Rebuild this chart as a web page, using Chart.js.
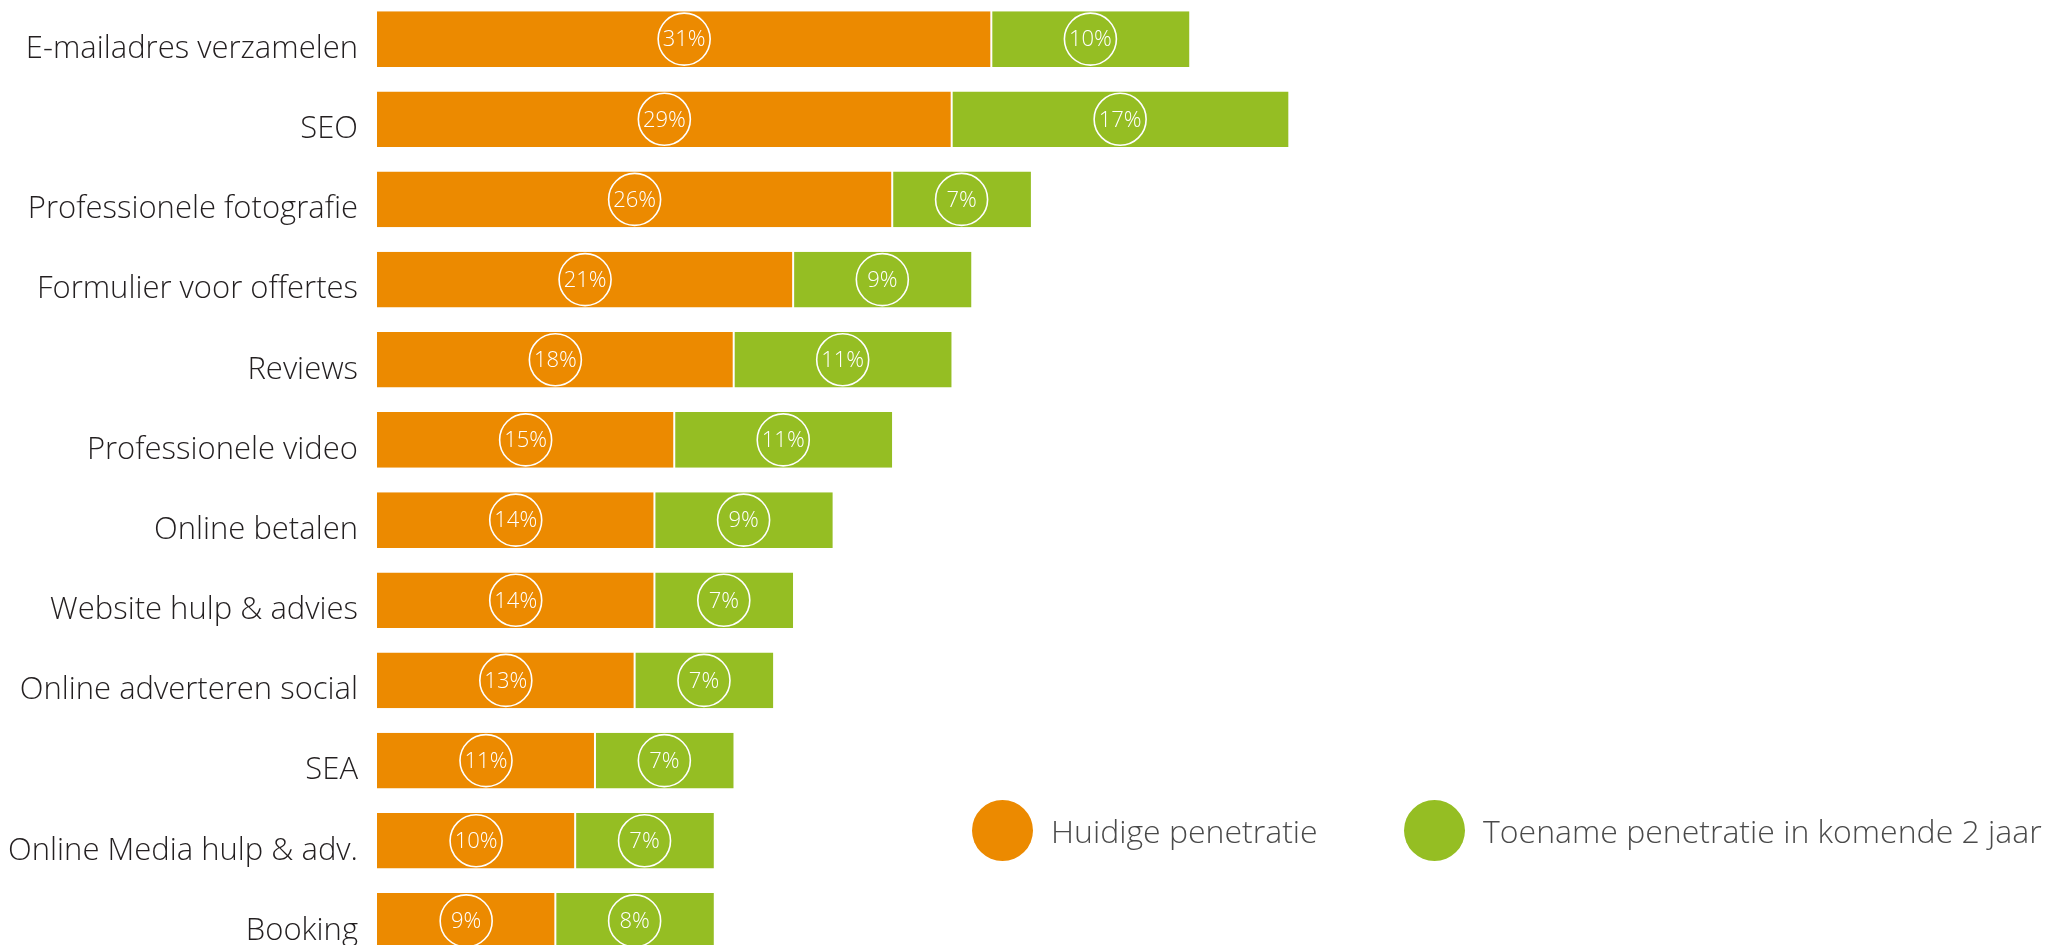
<!DOCTYPE html>
<html>
<head>
<meta charset="utf-8">
<script src="https://cdn.jsdelivr.net/npm/chart.js@4/dist/chart.umd.min.js"></script>
<style>
  html, body { margin: 0; padding: 0; background: #fff; overflow: hidden; width: 2046px; height: 945px; }
  #wrap { position: relative; width: 2046px; height: 945px; }
  #c { position: absolute; left: 0; top: -1px; }
  .lg { position: absolute; top: 800px; height: 61px; display: flex; align-items: center;
        font-family: "Open Sans", sans-serif; font-weight: 300; font-size: 32px; color: #4a4a4a; white-space: nowrap; }
  .lg .dot { width: 61px; height: 61px; border-radius: 50%; margin-right: 18px; flex: none; }
</style>
</head>
<body>
<div id="wrap">
  <canvas id="c" width="2046" height="962"></canvas>
</div>
<script>
const categories = [
  "E-mailadres verzamelen", "SEO", "Professionele fotografie", "Formulier voor offertes",
  "Reviews", "Professionele video", "Online betalen", "Website hulp & advies",
  "Online adverteren social", "SEA", "Online Media hulp & adv.", "Booking"
];
const currentPenetration = [31, 29, 26, 21, 18, 15, 14, 14, 13, 11, 10, 9];
const increaseNext2Years = [10, 17, 7, 9, 11, 11, 9, 7, 7, 7, 7, 8];
const seriesNames = ["Huidige penetratie", "Toename penetratie in komende 2 jaar"];
const seriesColors = ["#EC8A00", "#95BE23"];

const labelPlugin = {
  id: 'circleLabels',
  afterDatasetsDraw(chart) {
    const ctx = chart.ctx;
    ctx.save();
    chart.data.datasets.forEach((ds, i) => {
      const meta = chart.getDatasetMeta(i);
      meta.data.forEach((el, j) => {
        const cx = (el.x + el.base) / 2;
        const cy = el.y;
        ctx.beginPath();
        ctx.arc(cx, cy, 26, 0, Math.PI * 2);
        ctx.strokeStyle = '#ffffff';
        ctx.lineWidth = 1.6;
        ctx.stroke();
        ctx.fillStyle = '#ffffff';
        ctx.font = '300 22px "Open Sans"';
        ctx.textAlign = 'center';
        ctx.textBaseline = 'middle';
        ctx.fillText(ds.data[j] + '%', cx, cy + 1);
      });
    });
    ctx.restore();
  }
};

const chart = new Chart(document.getElementById('c'), {
  type: 'bar',
  data: {
    labels: categories,
    datasets: [
      {
        label: seriesNames[0],
        data: currentPenetration,
        backgroundColor: seriesColors[0],
        borderColor: '#ffffff',
        borderWidth: { top: 0, bottom: 0, left: 0, right: 1 },
        borderSkipped: false,
        barPercentage: 0.695,
        categoryPercentage: 1
      },
      {
        label: seriesNames[1],
        data: increaseNext2Years,
        backgroundColor: seriesColors[1],
        borderColor: '#ffffff',
        borderWidth: { top: 0, bottom: 0, left: 1, right: 0 },
        borderSkipped: false,
        barPercentage: 0.695,
        categoryPercentage: 1
      }
    ]
  },
  options: {
    indexAxis: 'y',
    responsive: false,
    animation: false,
    layout: { padding: { left: 0, right: 480, top: 0, bottom: 0 } },
    plugins: { legend: { display: false }, tooltip: { enabled: false } },
    scales: {
      x: { stacked: true, min: 0, max: 60, display: false },
      y: {
        stacked: true,
        grid: { display: false, drawTicks: false },
        border: { display: false },
        ticks: {
          padding: 19,
          labelOffset: 10,
          color: '#231f20',
          font: { family: '"Open Sans"', size: 31, weight: '300' }
        },
        afterFit(scale) {
          scale.width = 377;
          scale.paddingTop = 0;
          scale.paddingBottom = 0;
        }
      }
    }
  },
  plugins: [labelPlugin]
});

// HTML legend built from the chart's datasets
const legendLefts = [972, 1404];
chart.data.datasets.forEach((ds, i) => {
  const item = document.createElement('div');
  item.className = 'lg';
  item.style.left = legendLefts[i] + 'px';
  const dot = document.createElement('span');
  dot.className = 'dot';
  dot.style.background = ds.backgroundColor;
  const txt = document.createElement('span');
  txt.textContent = ds.label;
  item.appendChild(dot);
  item.appendChild(txt);
  document.getElementById('wrap').appendChild(item);
});
</script>
</body>
</html>
